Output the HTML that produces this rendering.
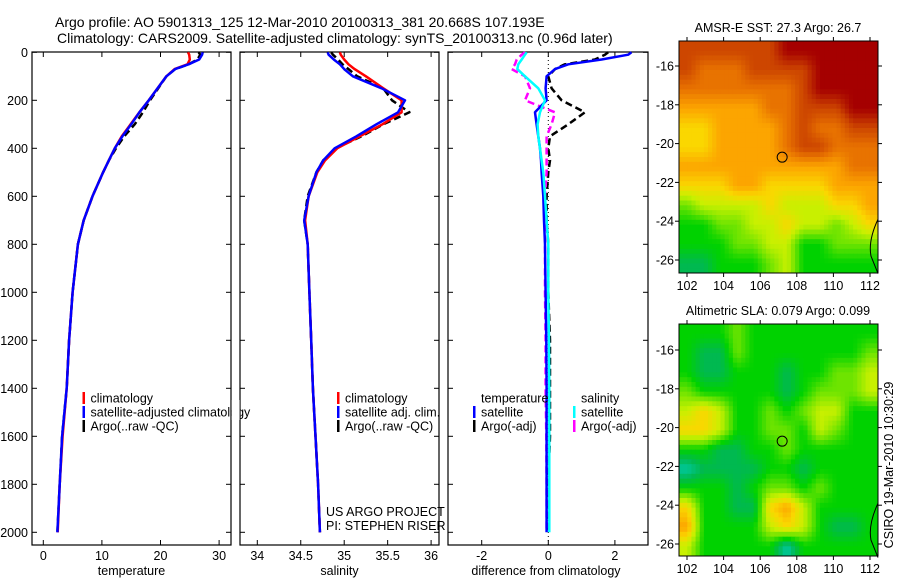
<!DOCTYPE html>
<html><head><meta charset="utf-8">
<style>
html,body{margin:0;padding:0;background:#fff;}
svg{display:block;font-family:"Liberation Sans",sans-serif;}
text{fill:#000;}
</style></head>
<body>
<svg id="fig" width="900" height="580" viewBox="0 0 900 580">
<text x="55" y="27" font-size="14">Argo profile: AO 5901313_125 12-Mar-2010 20100313_381 20.668S 107.193E</text>
<text x="57" y="43" font-size="14">Climatology: CARS2009. Satellite-adjusted climatology: synTS_20100313.nc (0.96d later)</text>
<g id="g"></g>
</svg>
<script>
const depths=[0,10,30,50,70,100,150,200,250,300,350,400,450,500,600,700,800,1000,1200,1400,1600,1800,2000];
const tempClim=[24.7,24.9,25.0,24.6,22.4,21.0,19.5,18.0,16.4,14.9,13.4,12.2,11.2,10.2,8.4,6.9,5.9,5.0,4.4,4.0,3.3,2.8,2.45];
const tempSat=[27.2,27.1,26.6,24.8,22.5,21.0,19.5,18.0,16.4,15.0,13.5,12.2,11.2,10.2,8.4,6.9,5.9,5.0,4.4,4.0,3.2,2.8,2.4];
const tempArgo=[26.5,26.8,26.3,24.8,22.5,21.0,19.6,18.2,17.0,15.6,13.8,12.4,11.2,10.2,8.4,6.9,5.9,5.0,4.4,4.0,3.2,2.8,2.4];
const salClim=[34.95,34.96,35.0,35.05,35.12,35.25,35.45,35.66,35.66,35.44,35.18,34.92,34.78,34.69,34.59,34.55,34.58,34.6,34.62,34.64,34.67,34.70,34.72];
const salSat=[34.81,34.82,34.88,34.95,35.0,35.1,35.43,35.70,35.62,35.37,35.14,34.89,34.76,34.68,34.59,34.54,34.58,34.6,34.62,34.64,34.67,34.70,34.72];
const salArgo=[34.85,34.87,34.93,34.98,35.05,35.15,35.45,35.55,35.75,35.45,35.2,34.9,34.76,34.68,34.58,34.54,34.58,34.6,34.62,34.64,34.67,34.7,34.72];
const dTsat=[2.5,2.4,1.6,0.6,0.2,-0.05,-0.08,-0.05,-0.4,-0.35,-0.3,-0.25,-0.22,-0.2,-0.15,-0.13,-0.1,-0.08,-0.06,-0.05,-0.05,-0.05,-0.05];
const dTargo=[1.8,1.7,1.4,0.5,0.2,0.0,0.1,0.4,1.1,0.6,0.05,0.0,0.05,0.0,-0.05,-0.05,0.0,0.0,0.05,0.05,0.05,0.0,0.0];
const dSsat=[-0.65,-0.7,-0.8,-0.9,-0.93,-0.7,-0.3,-0.1,-0.25,-0.32,-0.3,-0.25,-0.2,-0.15,-0.1,-0.05,0,0,0.02,0.03,0.03,0.03,0.03];
const dSargo=[-0.7,-0.8,-0.95,-1.0,-1.1,-0.7,-0.55,-0.7,0.2,0.1,-0.05,-0.05,-0.05,-0.05,-0.1,-0.1,-0.1,-0.1,-0.08,-0.08,-0.06,-0.05,-0.05];
const depthTicks=[0,200,400,600,800,1000,1200,1400,1600,1800,2000];
const tempTicks=[0,10,20,30];
const salTicks=[34,34.5,35,35.5,36];
const diffTicks=[-2,0,2];
const sstGrid=[
[8,8,8,8,8,8,9,9,9,9,9,9],
[8,7,7,7,8,8,8,8,9,9,9,9],
[7,7,7,7,7,7,7,8,9,9,9,9],
[6,6,6,6,6,7,7,8,8,8,9,9],
[5,5,6,6,6,6,7,8,7,7,8,8],
[5,5,6,6,6,6,7,8,8,7,7,7],
[6,6,6,6,6,6,6,6,6,6,7,7],
[5,5,5,6,6,5,5,5,5,6,6,6],
[3,4,4,4,4,5,4,4,4,5,5,6],
[2,2,3,3,4,4,5,4,4,3,4,5],
[2,2,2,3,3,4,4,2,2,3,3,3],
[1,1,2,2,2,3,4,2,2,2,2,2]];
const slaGrid=[
[2,2,2,3,2,2,2,2,2,2,2,2],
[2,1,1,3,2,2,2,2,2,2,2,3],
[2,1,1,2,2,2,1,2,2,3,3,4],
[3,2,2,2,2,2,1,2,3,3,3,4],
[4,5,4,2,2,3,2,3,4,4,2,2],
[5,5,4,2,2,3,3,2,4,3,2,2],
[2,2,1,1,2,2,3,2,2,2,2,2],
[0,1,1,1,1,2,2,1,2,2,2,2],
[2,2,2,1,2,3,3,2,3,2,2,2],
[5,2,2,1,1,5,6,4,2,2,2,2],
[6,2,2,2,2,4,5,4,2,1,1,2],
[4,2,2,2,2,2,0,2,2,2,2,2]];
const lonTicks=[102,104,106,108,110,112];
const latTicks=[-16,-18,-20,-22,-24,-26];
const argoLon=107.2, argoLat=-20.7;

const NS="http://www.w3.org/2000/svg";
const G=document.getElementById('g');
function mk(tag,attrs,parent){const e=document.createElementNS(NS,tag);for(const k in attrs)e.setAttribute(k,attrs[k]);(parent||G).appendChild(e);return e;}
const yD=d=>52.3+d*0.24;
const panels=[
 {x0:32,x1:231,fx:v=>43.3+v*5.86,ticks:tempTicks,label:'temperature',name:'temperature'},
 {x0:240,x1:439,fx:v=>257.3+(v-34)*86.9,ticks:salTicks,label:'salinity',name:'salinity'},
 {x0:448,x1:648,fx:v=>548.3+v*33.3,ticks:diffTicks,label:'difference from climatology',name:'difference'}];
panels.forEach((p,pi)=>{
 const ax=mk('g',{});
 
 
 const r=mk('rect',{x:p.x0,y:52,width:p.x1-p.x0,height:493,fill:'none',stroke:'#000','stroke-width':1.2},ax);
 
 
 depthTicks.forEach(d=>{
  mk('line',{x1:p.x0,x2:p.x0+5,y1:yD(d),y2:yD(d),stroke:'#000'},ax);
  mk('line',{x1:p.x1,x2:p.x1-5,y1:yD(d),y2:yD(d),stroke:'#000'},ax);
  if(pi===0){const t=mk('text',{x:p.x0-4,y:yD(d)+4.5,'font-size':12.5,'text-anchor':'end'},ax);t.textContent=d;
   
   }
 });
 p.ticks.forEach(v=>{const x=p.fx(v);
  mk('line',{x1:x,x2:x,y1:545,y2:540,stroke:'#000'},ax);
  mk('line',{x1:x,x2:x,y1:52,y2:57,stroke:'#000'},ax);
  const t=mk('text',{x:x,y:560,'font-size':12.5,'text-anchor':'middle'},ax);t.textContent=v;
  
  
 });
 const xl=mk('text',{x:(p.x0+p.x1)/2+(pi==2?-2:0),y:575,'font-size':12.5,'text-anchor':'middle'},ax);xl.textContent=p.label;
 
 
});
function line(p,vals,color,dash,name){
 const d=vals.map((v,i)=>(i?'L':'M')+p.fx(v).toFixed(1)+','+yD(depths[i]).toFixed(1)).join(' ');
 const e=mk('path',{d:d,fill:'none',stroke:color,'stroke-width':2.5,'stroke-dasharray':dash||'none','stroke-linejoin':'round'});
 
 
}
const zl=mk('line',{x1:panels[2].fx(0),x2:panels[2].fx(0),y1:52,y2:545,stroke:'#000','stroke-width':1,'stroke-dasharray':'1,3'});


line(panels[0],tempArgo,'#000','7,4','temperature-argo-line');
line(panels[0],tempClim,'#f00',null,'temperature-climatology-line');
line(panels[0],tempSat,'#00f',null,'temperature-satellite-line');
line(panels[1],salArgo,'#000','7,4','salinity-argo-line');
line(panels[1],salClim,'#f00',null,'salinity-climatology-line');
line(panels[1],salSat,'#00f',null,'salinity-satellite-line');
line(panels[2],dTargo,'#000','7,4','diff-temperature-argo-line');
line(panels[2],dSargo,'#f0f','7,4','diff-salinity-argo-line');
line(panels[2],dTsat,'#00f',null,'diff-temperature-satellite-line');
line(panels[2],dSsat,'#0ff',null,'diff-salinity-satellite-line');

function legend(x,y,color,label,name){
 const g=mk('g',{});
 
 
 if(color) mk('rect',{x:x,y:y-6,width:2.5,height:12,fill:color},g);
 const t=mk('text',{x:x+8,y:y+4.5,'font-size':12.5},g);t.textContent=label;
}
legend(82.5,398,'#f00','climatology','legend-climatology');
legend(82.5,412,'#00f','satellite-adjusted climatology','legend-satellite-adjusted');
legend(82.5,426,'#000','Argo(..raw -QC)','legend-argo');
legend(337,398,'#f00','climatology','legend-sal-climatology');
legend(337,412,'#00f','satellite adj. clim.','legend-sal-satellite');
legend(337,426,'#000','Argo(..raw -QC)','legend-sal-argo');
legend(473,398,null,'temperature','legend-temperature-header');
legend(473,412,'#00f','satellite','legend-diff-temp-satellite');
legend(473,426,'#000','Argo(-adj)','legend-diff-temp-argo');
legend(573,398,null,'salinity','legend-salinity-header');
legend(573,412,'#0ff','satellite','legend-diff-sal-satellite');
legend(573,426,'#f0f','Argo(-adj)','legend-diff-sal-argo');
const cov=mk('rect',{x:231.6,y:400,width:8,height:20,fill:'#fff'});


const t1=mk('text',{x:326,y:516,'font-size':12.5});t1.textContent='US ARGO PROJECT';


const t2=mk('text',{x:326,y:530,'font-size':12.5});t2.textContent='PI: STEPHEN RISER';



const cmap=[[0,200,160],[0,185,80],[0,210,0],[110,228,0],[200,240,0],[250,215,0],[252,165,0],[232,115,0],[205,70,0],[165,0,0]];
function colorOf(v){
 v=Math.max(0,Math.min(9,v));const i=Math.min(8,Math.floor(v)),f=v-i;
 const a=cmap[i],b=cmap[i+1];
 return `rgb(${Math.round(a[0]+(b[0]-a[0])*f)},${Math.round(a[1]+(b[1]-a[1])*f)},${Math.round(a[2]+(b[2]-a[2])*f)})`;
}
function sample(grid,r,c){
 const R=grid.length,C=grid[0].length;
 r=Math.max(0,Math.min(R-1,r));c=Math.max(0,Math.min(C-1,c));
 const r0=Math.floor(r),c0=Math.floor(c),r1=Math.min(R-1,r0+1),c1=Math.min(C-1,c0+1),fr=r-r0,fc=c-c0;
 return grid[r0][c0]*(1-fr)*(1-fc)+grid[r0][c1]*(1-fr)*fc+grid[r1][c0]*fr*(1-fc)+grid[r1][c1]*fr*fc;
}
function map(top,grid,title,name,latTop,latBot){
 const x0=679,x1=878,y0=top,y1=top+232;
 const fx=l=>687+(l-102)*18.3;
 const fy=la=>latTop+(la+16)*(latBot-latTop)/(-10);
 const g=mk('g',{});
 
 
 const rows=grid.length,cols=grid[0].length,S=4;
 const cw=(x1-x0)/(cols*S),ch=(y1-y0)/(rows*S);
 for(let r=0;r<rows*S;r++)for(let c=0;c<cols*S;c++){
  const v=sample(grid,(r+0.5)/S-0.5,(c+0.5)/S-0.5);
  const e=mk('rect',{x:(x0+c*cw).toFixed(2),y:(y0+r*ch).toFixed(2),width:(cw+0.5).toFixed(2),height:(ch+0.5).toFixed(2),fill:colorOf(v)},g);
  
  
 }
 const coast=mk('path',{d:`M878,${fy(-23.9)} Q868,${fy(-25)} 871,${fy(-25.8)} L878,${fy(-26.7)}`,fill:'none',stroke:'#000','stroke-width':1},g);
 
 
 const c=mk('circle',{cx:fx(argoLon),cy:fy(argoLat),r:5,fill:'none',stroke:'#000','stroke-width':1},g);
 
 
 const fr=mk('rect',{x:x0,y:y0,width:x1-x0,height:y1-y0,fill:'none',stroke:'#000','stroke-width':1},g);
 
 
 lonTicks.forEach(l=>{const x=fx(l);
  mk('line',{x1:x,x2:x,y1:y0,y2:y0-4,stroke:'#000'},g);
  mk('line',{x1:x,x2:x,y1:y1,y2:y1+4,stroke:'#000'},g);
  const t=mk('text',{x:x,y:y1+17,'font-size':12.5,'text-anchor':'middle'},g);t.textContent=l;
  
  
 });
 latTicks.forEach(la=>{const y=fy(la);
  mk('line',{x1:x0,x2:x0-4,y1:y,y2:y,stroke:'#000'},g);
  mk('line',{x1:x1,x2:x1+4,y1:y,y2:y,stroke:'#000'},g);
  const t=mk('text',{x:x0-5,y:y+4.5,'font-size':12.5,'text-anchor':'end'},g);t.textContent=la;
  
  
 });
 const tt=mk('text',{x:778,y:y0-9,'font-size':12.5,'text-anchor':'middle'},g);tt.textContent=title;
 
 
}
map(41,sstGrid,'AMSR-E SST: 27.3 Argo: 26.7','sst',66,260);
map(324,slaGrid,'Altimetric SLA: 0.079 Argo: 0.099','sla',350,544);
const st=mk('text',{x:0,y:0,'font-size':12.5,'text-anchor':'middle',transform:'translate(893,465) rotate(-90)'});
st.textContent='CSIRO 19-Mar-2010 10:30:29';


</script>
</body></html>
